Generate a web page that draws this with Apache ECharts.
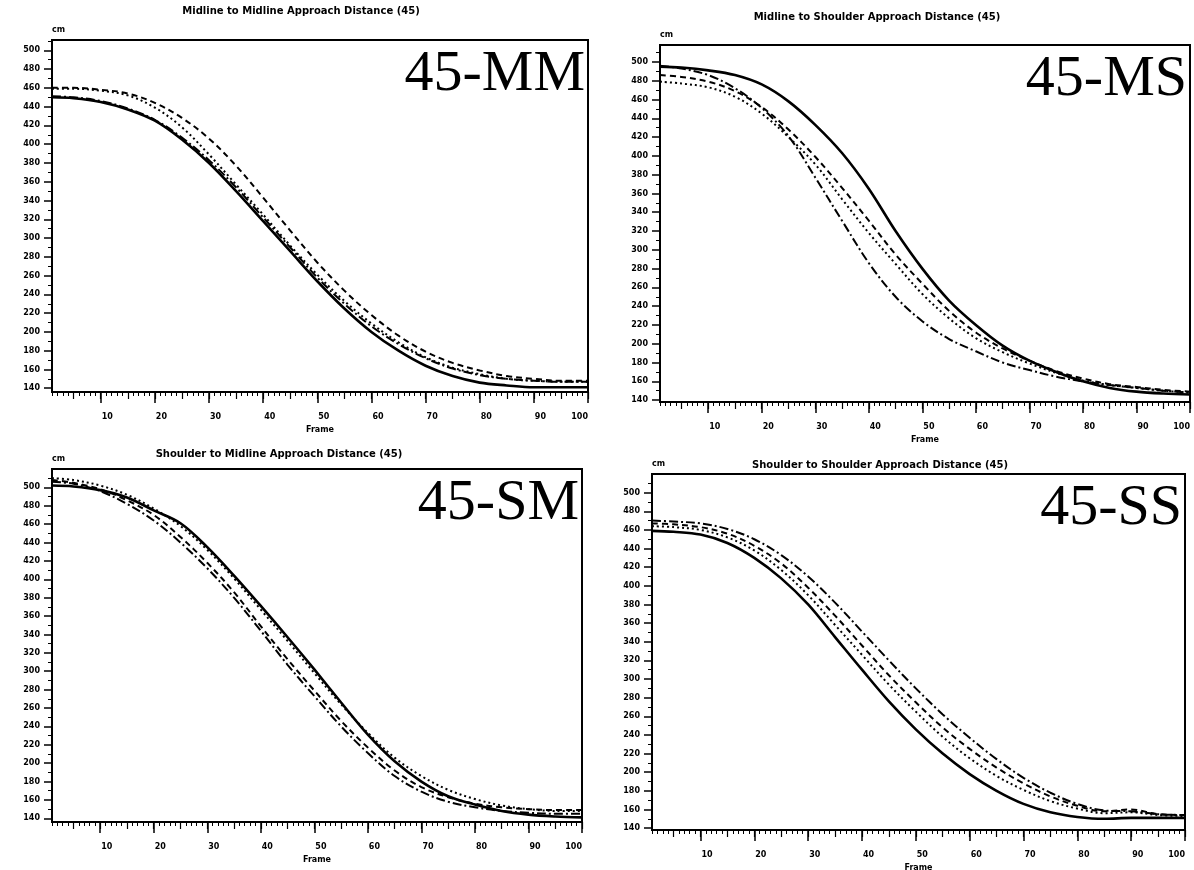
<!DOCTYPE html>
<html>
<head>
<meta charset="utf-8">
<script src="https://cdn.jsdelivr.net/npm/echarts@6/dist/echarts.min.js"></script>
<style>
  html, body { margin: 0; padding: 0; background: #fff; }
  #chart { width: 1194px; height: 870px; }
</style>
</head>
<body>
<div id="chart"></div>
<script>
// Frames at which each approach-distance curve was sampled
const frames = [1, 5, 10, 15, 20, 25, 30, 35, 40, 45, 50, 55, 60, 65, 70, 75, 80, 85, 90, 95, 100];

// Y tick labels (distance) and X tick labels (frame)
const yTicks = [140, 160, 180, 200, 220, 240, 260, 280, 300, 320, 340, 360, 380, 400, 420, 440, 460, 480, 500];
const xTicks = [10, 20, 30, 40, 50, 60, 70, 80, 90, 100];

// Midline to Midline (45-MM)
const mmSolid   = [450, 449, 445, 437, 425, 405, 380, 350, 318, 286, 254, 225, 200, 180, 164, 153, 146, 143, 141, 141, 141];
const mmDashDot = [451, 450, 446, 438, 426, 407, 383, 354, 322, 290, 258, 230, 206, 187, 172, 161, 154, 150, 148, 147, 147];
const mmDotted  = [459, 459, 457, 452, 439, 418, 389, 357, 325, 292, 261, 233, 209, 189, 173, 162, 155, 150, 148, 147, 147];
const mmDashed  = [460, 460, 458, 454, 444, 428, 406, 377, 343, 308, 274, 244, 218, 196, 179, 167, 159, 153, 150, 148, 148];

// Midline to Shoulder (45-MS)
const msSolid   = [495, 494, 491, 486, 476, 458, 433, 403, 365, 320, 280, 246, 220, 198, 182, 170, 160, 153, 149, 147, 146];
const msDashDot = [496, 493, 486, 472, 451, 421, 377, 331, 286, 250, 224, 205, 192, 180, 172, 165, 160, 156, 153, 150, 148];
const msDotted  = [479, 477, 473, 463, 445, 420, 391, 354, 318, 285, 253, 227, 206, 191, 179, 169, 161, 156, 153, 150, 148];
const msDashed  = [486, 484, 479, 469, 452, 428, 399, 366, 331, 295, 264, 235, 212, 195, 182, 171, 163, 157, 154, 151, 149];

// Shoulder to Midline (45-SM)
const smSolid   = [502, 501, 497, 489, 475, 461, 435, 404, 371, 337, 302, 266, 231, 202, 180, 164, 155, 148, 144, 142, 141];
const smDashDot = [506, 504, 496, 482, 464, 440, 412, 380, 344, 307, 273, 240, 211, 186, 169, 158, 152, 148, 146, 145, 145];
const smDotted  = [510, 508, 502, 492, 477, 458, 432, 401, 367, 333, 298, 264, 233, 206, 186, 171, 161, 154, 150, 148, 148];
const smDashed  = [508, 505, 498, 486, 470, 446, 418, 386, 349, 313, 279, 246, 217, 192, 174, 163, 156, 152, 150, 149, 149];

// Shoulder to Shoulder (45-SS)
const ssSolid   = [459, 458, 455, 446, 430, 408, 380, 345, 310, 276, 246, 220, 198, 180, 166, 157, 152, 150, 151, 151, 151];
const ssDashDot = [470, 469, 467, 461, 450, 433, 410, 382, 351, 320, 290, 262, 237, 214, 194, 178, 166, 159, 158, 155, 154];
const ssDotted  = [464, 463, 460, 452, 438, 417, 390, 358, 326, 294, 265, 238, 215, 196, 181, 169, 161, 156, 157, 154, 153];
const ssDashed  = [467, 466, 463, 456, 443, 424, 398, 368, 336, 304, 275, 248, 225, 205, 188, 174, 164, 158, 160, 155, 154];

const panels = [
  { title: 'Midline to Midline Approach Distance (45)',   tag: '45-MM', titleAt: [301, 6],
    grid: { left: 52,  top: 40,  width: 536, height: 352 }, yMin: 136, yMax: 511,
    lines: [mmSolid, mmDashDot, mmDotted, mmDashed] },
  { title: 'Midline to Shoulder Approach Distance (45)',  tag: '45-MS', titleAt: [877, 12],
    grid: { left: 660, top: 45,  width: 530, height: 357 }, yMin: 138, yMax: 518,
    lines: [msSolid, msDashDot, msDotted, msDashed] },
  { title: 'Shoulder to Midline Approach Distance (45)',  tag: '45-SM', titleAt: [279, 449],
    grid: { left: 52,  top: 469, width: 530, height: 353 }, yMin: 136, yMax: 520,
    lines: [smSolid, smDashDot, smDotted, smDashed] },
  { title: 'Shoulder to Shoulder Approach Distance (45)', tag: '45-SS', titleAt: [880, 460],
    grid: { left: 652, top: 474, width: 533, height: 356 }, yMin: 138, yMax: 520,
    lines: [ssSolid, ssDashDot, ssDotted, ssDashed] }
];

// solid, dash-dot, dotted, dashed
const strokes = [
  { width: 2.6, type: 'solid' },
  { width: 2.0, type: [9, 3, 2, 3] },
  { width: 2.0, type: [2, 3] },
  { width: 2.0, type: [6, 4] }
];

const tickFont = { color: '#000', fontSize: 8, fontWeight: 'bold', fontFamily: 'DejaVu Sans' };
const ones = [], fives = [], halfSteps = [];
for (let f = 1; f <= 100; f++) ones.push(f);
for (let f = 5; f <= 100; f += 5) fives.push(f);
for (let v = 150; v <= 510; v += 20) halfSteps.push(v);

const grid = [], xAxis = [], yAxis = [], series = [], graphic = [];

panels.forEach((p, i) => {
  grid.push(Object.assign({
    show: true, borderColor: '#000', borderWidth: 2, backgroundColor: '#fff',
    containLabel: false, outerBoundsMode: 'none'
  }, p.grid));

  const xBase = { type: 'value', gridIndex: i, min: 1, max: 100, position: 'bottom',
                  axisLine: { onZero: false }, splitLine: { show: false } };
  // labelled axis, long ticks every 10 frames
  xAxis.push(Object.assign({}, xBase, {
    name: 'Frame', nameLocation: 'middle', nameGap: 34,
    nameTextStyle: { color: '#000', fontSize: 8, fontWeight: 'bold', fontFamily: 'DejaVu Sans' },
    axisLine: { show: true, onZero: false, lineStyle: { color: '#000', width: 2 } },
    axisTick: { show: true, length: 11, customValues: xTicks, lineStyle: { color: '#000', width: 1.5 } },
    axisLabel: Object.assign({ customValues: xTicks, margin: 21, align: 'left', padding: [0, 0, 0, 1],
                               alignMaxLabel: 'right' }, tickFont)
  }));
  // medium ticks every 5 frames
  xAxis.push(Object.assign({}, xBase, {
    axisLine: { show: false, onZero: false },
    axisTick: { show: true, length: 7, customValues: fives, lineStyle: { color: '#000', width: 1.2 } },
    axisLabel: { show: false }
  }));
  // small ticks every frame
  xAxis.push(Object.assign({}, xBase, {
    axisLine: { show: false, onZero: false },
    axisTick: { show: true, length: 4, customValues: ones, lineStyle: { color: '#000', width: 1 } },
    axisLabel: { show: false }
  }));

  yAxis.push({
    type: 'value', gridIndex: i, min: p.yMin, max: p.yMax, position: 'left',
    name: 'cm', nameLocation: 'end', nameGap: 6,
    nameTextStyle: { color: '#000', fontSize: 8, fontWeight: 'bold', fontFamily: 'DejaVu Sans', align: 'left' },
    splitLine: { show: false },
    axisLine: { show: true, onZero: false, lineStyle: { color: '#000', width: 2 } },
    axisTick: { show: true, length: 8, customValues: yTicks, lineStyle: { color: '#000', width: 1.5 } },
    axisLabel: Object.assign({ customValues: yTicks, margin: 12 }, tickFont)
  });
  yAxis.push({
    type: 'value', gridIndex: i, min: p.yMin, max: p.yMax, position: 'left',
    splitLine: { show: false }, axisLine: { show: false, onZero: false },
    axisTick: { show: true, length: 4, customValues: halfSteps.filter(v => v < p.yMax), lineStyle: { color: '#000', width: 1 } },
    axisLabel: { show: false }
  });

  p.lines.forEach((vals, k) => {
    series.push({
      type: 'line', xAxisIndex: i * 3, yAxisIndex: i * 2,
      data: frames.map((f, j) => [f, vals[j]]),
      smooth: 0.35, showSymbol: false, symbol: 'none', clip: true,
      lineStyle: { color: '#000', width: strokes[k].width, type: strokes[k].type },
      z: 4 - k
    });
  });

  const g = p.grid;
  graphic.push({
    type: 'text', x: p.titleAt[0], y: p.titleAt[1],
    style: { text: p.title, fill: '#000', font: 'bold 10px "DejaVu Sans"', textAlign: 'center' }
  });
  graphic.push({
    type: 'text', x: g.left + g.width - 3, y: g.top + 6,
    style: { text: p.tag, fill: '#000', font: '58px "Liberation Serif"', textAlign: 'right' }, z: 10
  });
});

const chart = echarts.init(document.getElementById('chart'), null, { renderer: 'canvas' });
chart.setOption({
  animation: false,
  backgroundColor: '#fff',
  grid, xAxis, yAxis, series, graphic
});
</script>
</body>
</html>
